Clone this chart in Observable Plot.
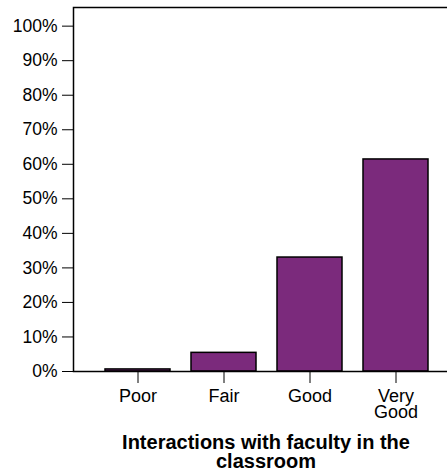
<!DOCTYPE html>
<html>
<head>
<meta charset="utf-8">
<script src="https://cdn.jsdelivr.net/npm/d3@7"></script>
<script src="https://cdn.jsdelivr.net/npm/@observablehq/plot@0.6"></script>
<style>
  html, body { margin: 0; padding: 0; background: #fff; overflow: hidden; }
  #chart svg { overflow: hidden; display: block; }
  #title {
    position: absolute; left: 73px; width: 386px; top: 433px;
    text-align: center; font-family: "Liberation Sans", Arial, sans-serif;
    font-weight: bold; font-size: 20px; line-height: 19px; color: #000;
  }
</style>
</head>
<body>
<div id="chart"></div>
<div id="title">Interactions with faculty in the<br>classroom</div>
<script>
const categories = ["Poor", "Fair", "Good", "Very Good"];
const percents = [0.6, 5.4, 33.0, 61.4];
const tickLabels = ["Poor", "Fair", "Good", "Very\nGood"];
const yTicks = [0, 10, 20, 30, 40, 50, 60, 70, 80, 90, 100];
const yMax = 105.4;

const data = categories.map((c, i) => ({category: c, pct: percents[i], label: tickLabels[i]}));

const chart = Plot.plot({
  width: 447,
  height: 430,
  marginLeft: 73,
  marginRight: -12,
  marginTop: 7,
  marginBottom: 59,
  style: {fontFamily: "'Liberation Sans', Arial, sans-serif", fontSize: "17.5px", color: "#000", background: "#fff"},
  x: {domain: categories, padding: 0.25, paddingOuter: 0.35, tickSize: 12, tickFormat: () => "", label: null},
  y: {domain: [0, yMax], ticks: yTicks, tickFormat: d => d + "%", tickSize: 11, tickPadding: 5, label: null},
  marks: [
    Plot.barY(data, {x: "category", y: "pct", fill: "#7b2a7c", stroke: "#000", strokeWidth: 1.5}),
    Plot.frame({stroke: "#000", strokeWidth: 1.5}),
    Plot.text(data, {x: "category", text: "label", frameAnchor: "bottom", dy: 19, lineAnchor: "top", fontSize: 18, lineHeight: 0.9, fill: "#000"})
  ]
});
document.getElementById("chart").appendChild(chart);
</script>
</body>
</html>
